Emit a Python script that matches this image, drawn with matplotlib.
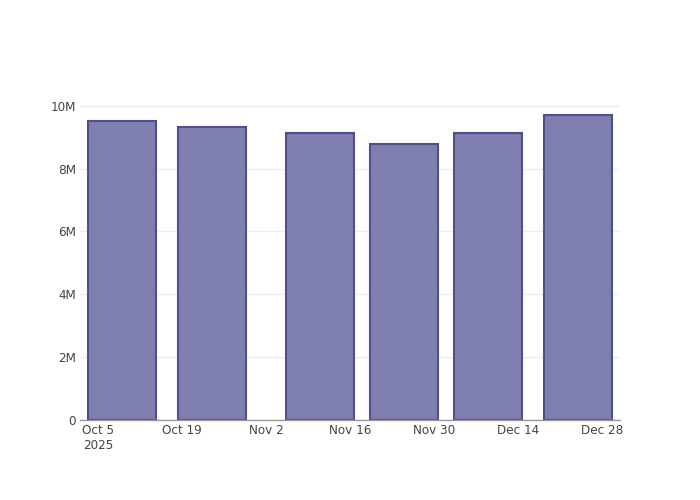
import numpy as np
import matplotlib
matplotlib.use('Agg')
import matplotlib.pyplot as plt
import matplotlib.dates as mdates
from datetime import datetime, timedelta

# data
dates = ['2025-10-09', '2025-10-24', '2025-11-11', '2025-11-25', '2025-12-09', '2025-12-24']
values = [9.52e6, 9.34e6, 9.15e6, 8.79e6, 9.14e6, 9.70e6]

tick_dates = ['2025-10-05', '2025-10-19', '2025-11-02', '2025-11-16', '2025-11-30', '2025-12-14', '2025-12-28']
tick_labels = ['Oct 5\n2025', 'Oct 19', 'Nov 2', 'Nov 16', 'Nov 30', 'Dec 14', 'Dec 28']

y_ticks = [0, 2e6, 4e6, 6e6, 8e6, 10e6]
y_labels = ['0', '2M', '4M', '6M', '8M', '10M']

x = [datetime.strptime(d, '%Y-%m-%d') for d in dates]
xt = [datetime.strptime(d, '%Y-%m-%d') for d in tick_dates]

fs = 12 * 72 / 100
txt = '#444444'

fig = plt.figure(figsize=(7, 5), dpi=100)
ax = fig.add_axes([80 / 700, 80 / 500, 540 / 700, 320 / 500])

slot = 14  # smallest gap between bars in days
ax.bar(x, values, width=slot * 0.8, color='#7f7faf', edgecolor='#4f4f8c',
       linewidth=1.5, zorder=3)

ax.set_xlim(x[0] - timedelta(days=slot / 2), x[-1] + timedelta(days=slot / 2))
ax.set_ylim(0, max(values) * 1.05)

ax.set_xticks(xt)
ax.set_xticklabels(tick_labels, fontsize=fs, color=txt, ha='center', linespacing=1.15)
ax.set_yticks(y_ticks)
ax.set_yticklabels(y_labels, fontsize=fs, color=txt)
ax.tick_params(axis='both', length=0)
ax.tick_params(axis='x', pad=3)
ax.tick_params(axis='y', pad=3)

ax.grid(axis='y', color='#eeeeee', linewidth=1, zorder=0)
ax.set_axisbelow(True)
for s in ['top', 'right', 'left']:
    ax.spines[s].set_visible(False)
ax.spines['bottom'].set_color('#999999')
ax.spines['bottom'].set_linewidth(1)
ax.spines['bottom'].set_zorder(4)

fig.savefig('out.png', dpi=100)
